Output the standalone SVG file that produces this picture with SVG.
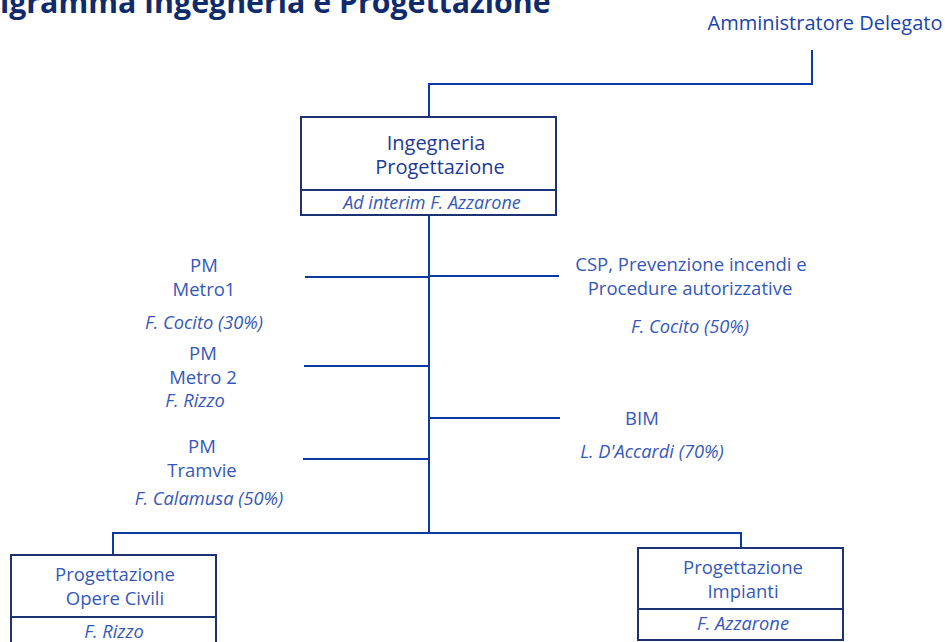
<svg xmlns="http://www.w3.org/2000/svg" width="945" height="642" viewBox="0 0 945 642">
<style>
.t{font-family:"Open Sans","Noto Sans","Liberation Sans",sans-serif;fill:#3558b8;font-size:18.5px;text-anchor:middle}
.i{font-style:italic;font-size:18.3px}
.box{fill:#ffffff;stroke:#1c3272;stroke-width:2}
.ln{fill:none;stroke:#0b3aa2;stroke-width:2}
</style>
<rect width="945" height="642" fill="#ffffff"/>
<text x="0" y="13" style="font-family:'Open Sans','Noto Sans','Liberation Sans',sans-serif;font-weight:bold;font-size:30.3px;fill:#0f2b6b">igramma Ingegneria e Progettazione</text>
<g id="connectors">
<polyline class="ln" points="812,50 812,84 429,84 429,117"/>
<line class="ln" x1="429" y1="215" x2="429" y2="533"/>
<polyline class="ln" points="113,555 113,533 741,533 741,548"/>
<line class="ln" x1="305" y1="277" x2="429" y2="277"/>
<line class="ln" x1="304" y1="366" x2="429" y2="366"/>
<line class="ln" x1="303" y1="459" x2="429" y2="459"/>
<line class="ln" x1="429" y1="276" x2="559" y2="276"/>
<line class="ln" x1="429" y1="418" x2="560" y2="418"/>
</g>
<g id="ad">
<text class="t" x="825" y="30" style="font-size:20px;fill:#1a44a8">Amministratore Delegato</text>
</g>
<g id="ingegneria">
<rect class="box" x="301" y="117" width="255" height="98"/>
<line class="box" x1="301" y1="190" x2="556" y2="190"/>
<text class="t" x="436" y="150" style="font-size:20px;fill:#1c3a96">Ingegneria</text>
<text class="t" x="440" y="174" style="font-size:20px;fill:#1c3a96">Progettazione</text>
<text class="t i" x="432" y="209" style="font-size:18px">Ad interim F. Azzarone</text>
</g>
<g id="pm-metro1">
<text class="t" x="204" y="272">PM</text>
<text class="t" x="204" y="296">Metro1</text>
<text class="t i" x="204" y="329">F. Cocito (30%)</text>
</g>
<g id="pm-metro2">
<text class="t" x="203" y="360">PM</text>
<text class="t" x="203" y="384">Metro 2</text>
<text class="t i" x="195" y="407">F. Rizzo</text>
</g>
<g id="pm-tramvie">
<text class="t" x="202" y="453">PM</text>
<text class="t" x="202" y="477">Tramvie</text>
<text class="t i" x="209" y="505">F. Calamusa (50%)</text>
</g>
<g id="csp">
<text class="t" x="691" y="271">CSP, Prevenzione incendi e</text>
<text class="t" x="690" y="295">Procedure autorizzative</text>
<text class="t i" x="690" y="333">F. Cocito (50%)</text>
</g>
<g id="bim">
<text class="t" x="642" y="425">BIM</text>
<text class="t i" x="652" y="458">L. D'Accardi (70%)</text>
</g>
<g id="opere-civili">
<rect class="box" x="11" y="555" width="205" height="95"/>
<line class="box" x1="11" y1="617" x2="216" y2="617"/>
<text class="t" x="115" y="581">Progettazione</text>
<text class="t" x="115" y="605">Opere Civili</text>
<text class="t i" x="114" y="638">F. Rizzo</text>
</g>
<g id="impianti">
<rect class="box" x="638" y="548" width="205" height="92"/>
<line class="box" x1="638" y1="609" x2="843" y2="609"/>
<text class="t" x="743" y="574">Progettazione</text>
<text class="t" x="743" y="598">Impianti</text>
<text class="t i" x="743" y="630">F. Azzarone</text>
</g>
</svg>
